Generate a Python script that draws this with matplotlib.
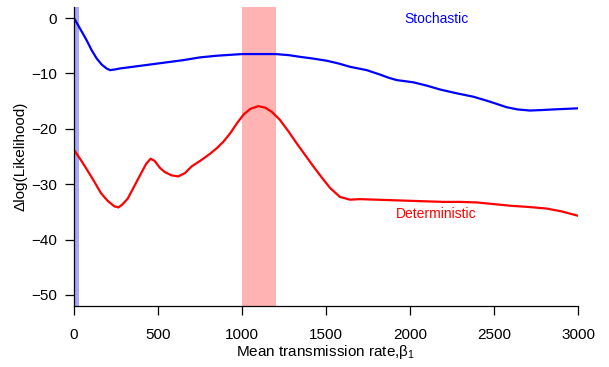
import matplotlib
matplotlib.use("Agg")
import matplotlib.pyplot as plt

plt.rcParams['font.family'] = ['Liberation Sans', 'DejaVu Sans']

stoch_beta = [0, 36, 75, 105, 135, 165, 194, 214, 240, 274, 350, 450, 550, 650, 750, 850,
              950, 1000, 1100, 1200, 1280, 1345, 1420, 1504, 1575, 1643, 1742, 1821, 1875,
              1921, 2020, 2100, 2179, 2280, 2377, 2476, 2575, 2640, 2714, 2790, 2853, 3000]
stoch_ll = [0, -1.9, -4.0, -5.8, -7.3, -8.4, -9.1, -9.4, -9.3, -9.1, -8.8, -8.4, -8.0, -7.6,
            -7.1, -6.8, -6.6, -6.5, -6.5, -6.5, -6.7, -7.0, -7.3, -7.7, -8.2, -8.8, -9.4,
            -10.2, -10.8, -11.2, -11.6, -12.2, -12.9, -13.6, -14.2, -15.1, -16.1, -16.5,
            -16.7, -16.6, -16.5, -16.3]

det_beta = [0, 40, 80, 120, 160, 200, 240, 265, 290, 320, 360, 400, 430, 456, 480, 510,
            540, 580, 620, 660, 700, 760, 810, 850, 890, 930, 970, 1010, 1050, 1097,
            1140, 1180, 1226, 1275, 1325, 1375, 1425, 1475, 1525, 1583, 1643, 1700,
            1800, 1900, 2000, 2100, 2200, 2300, 2400, 2500, 2600, 2700, 2813, 2900, 3000]
det_ll = [-23.8, -25.6, -27.5, -29.5, -31.6, -33.0, -34.0, -34.2, -33.6, -32.6, -30.3, -28.0,
          -26.3, -25.4, -25.8, -27.0, -27.8, -28.4, -28.6, -28.0, -26.8, -25.6, -24.5, -23.5,
          -22.3, -20.8, -19.0, -17.4, -16.4, -15.9, -16.2, -17.0, -18.4, -20.4, -22.6, -24.7,
          -26.8, -28.8, -30.7, -32.3, -32.8, -32.7, -32.8, -32.9, -33.0, -33.1, -33.2, -33.2,
          -33.3, -33.6, -33.9, -34.1, -34.4, -34.9, -35.7]

stoch_band = (0, 30)
det_band = (1000, 1200)

xticks = [0, 500, 1000, 1500, 2000, 2500, 3000]
yticks = [0, -10, -20, -30, -40, -50]

fig = plt.figure(figsize=(6.09, 3.67), dpi=100)
ax = fig.add_axes([74/609, 1-306/367, 504/609, 299/367])

ax.axvspan(*stoch_band, color='#a8a8f8', lw=0)
ax.axvspan(*det_band, color='#ffb3b3', lw=0)
ax.plot(stoch_beta, stoch_ll, color='#0000ff', lw=1.6, solid_joinstyle='round')
ax.plot(det_beta, det_ll, color='#ff0000', lw=1.6, solid_joinstyle='round')

ax.text(2158, -0.2, 'Stochastic', color='#0000ff', fontsize=10, ha='center', va='center')
ax.text(2158, -35.3, 'Deterministic', color='#ff0000', fontsize=10, ha='center', va='center')

ax.set_xlim(0, 3000)
ax.set_ylim(-52, 2)
ax.set_xticks(xticks)
ax.set_yticks(yticks)
ax.tick_params(direction='out', length=6.5, width=0.9, labelsize=11)
ax.tick_params(axis='x', pad=9)
ax.tick_params(axis='y', pad=6)
for s in ['top', 'right']:
    ax.spines[s].set_visible(False)
for s in ['left', 'bottom']:
    ax.spines[s].set_linewidth(0.9)

ax.set_xlabel(r'Mean transmission rate,$\mathregular{\beta_1}$', fontsize=11, labelpad=1)
ax.set_ylabel('Δlog(Likelihood)', fontsize=11, labelpad=2)

fig.savefig('out.png', dpi=100)
